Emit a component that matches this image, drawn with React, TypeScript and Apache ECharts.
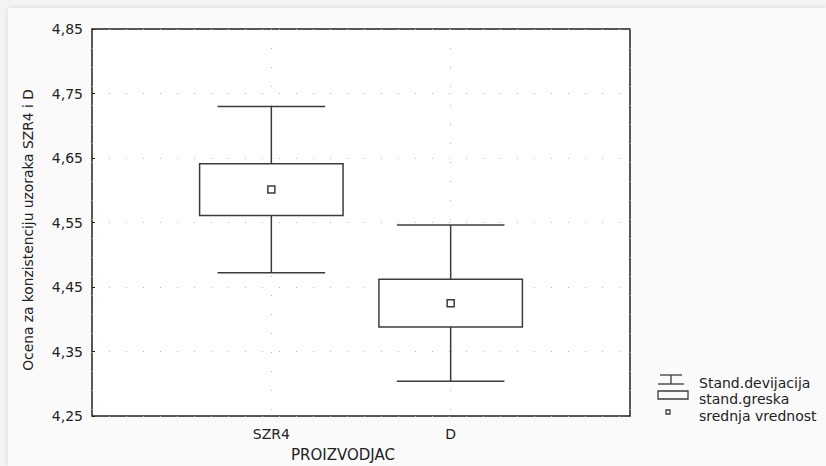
import React, { useEffect, useRef } from "react";
import * as echarts from "echarts";

// Producers on the x axis and their summary statistics
const categories = ["SZR4", "D"];
const means = [4.601, 4.425];
const stdErrors = [0.04, 0.037];
const stdDevs = [0.129, 0.121];

// y axis range and ticks
const yMin = 4.25;
const yMax = 4.85;
const yStep = 0.1;

const legendLabels = ["Stand.devijacija", "stand.greska", "srednja vrednost"];
const yTitle = "Ocena za konzistenciju uzoraka SZR4 i D";
const xTitle = "PROIZVODJAC";

const FONT = "DejaVu Sans";
const INK = "#3c3c3c";
const TEXT = "#222";

export default function App() {
  const ref = useRef<HTMLDivElement>(null);

  useEffect(() => {
    if (!ref.current) return;
    const chart = echarts.init(ref.current, undefined, { renderer: "svg" });

    const data = categories.map((_, i) => [i + 1, means[i], stdErrors[i], stdDevs[i]]);

    const renderItem = (_params: any, api: any) => {
      const x = api.value(0);
      const m = api.value(1);
      const se = api.value(2);
      const sd = api.value(3);
      const band = api.size([1, 0])[0];
      const cx = api.coord([x, m])[0];
      const cy = api.coord([x, m])[1];
      const boxTop = api.coord([x, m + se])[1];
      const boxBot = api.coord([x, m - se])[1];
      const whTop = api.coord([x, m + sd])[1];
      const whBot = api.coord([x, m - sd])[1];
      const bw = band * 0.8;
      const ww = band * 0.6;
      const line = { stroke: INK, lineWidth: 1.5 };
      return {
        type: "group",
        children: [
          { type: "line", shape: { x1: cx - ww / 2, y1: whTop, x2: cx + ww / 2, y2: whTop }, style: line },
          { type: "line", shape: { x1: cx - ww / 2, y1: whBot, x2: cx + ww / 2, y2: whBot }, style: line },
          { type: "line", shape: { x1: cx, y1: whTop, x2: cx, y2: boxTop }, style: line },
          { type: "line", shape: { x1: cx, y1: boxBot, x2: cx, y2: whBot }, style: line },
          {
            type: "rect",
            shape: { x: cx - bw / 2, y: boxTop, width: bw, height: boxBot - boxTop },
            style: { fill: "#fff", stroke: INK, lineWidth: 1.5 },
          },
          {
            type: "rect",
            shape: { x: cx - 3.5, y: cy - 3.5, width: 7, height: 7 },
            style: { fill: "#fff", stroke: INK, lineWidth: 1.5 },
          },
        ],
      };
    };

    const lx = 658;
    const ly = [383, 399, 416];
    const legendStroke = { stroke: INK, lineWidth: 1.3, fill: "none" };

    chart.setOption({
      animation: false,
      backgroundColor: "transparent",
      grid: {
        left: 92,
        top: 29,
        right: 196,
        bottom: 50,
        show: true,
        backgroundColor: "#fff",
        borderColor: "#222",
        borderWidth: 1.5,
      },
      xAxis: {
        type: "value",
        min: 0,
        max: categories.length + 1,
        interval: 1,
        axisLine: { show: false },
        axisTick: { show: false },
        splitLine: { show: true, lineStyle: { color: "#b8b8b8", type: [1, 18], width: 1 } },
        axisLabel: {
          margin: 11,
          fontFamily: FONT,
          fontSize: 14,
          color: TEXT,
          formatter: (v: number) => categories[v - 1] ?? "",
        },
      },
      yAxis: {
        type: "value",
        min: yMin,
        max: yMax,
        interval: yStep,
        axisLine: { show: false },
        axisTick: { show: true, inside: true, length: 3, lineStyle: { color: "#222" } },
        splitLine: { show: true, lineStyle: { color: "#b8b8b8", type: [1, 16], width: 1 } },
        axisLabel: {
          margin: 9,
          fontFamily: FONT,
          fontSize: 14,
          color: TEXT,
          formatter: (v: number) => v.toFixed(2).replace(".", ","),
        },
      },
      series: [
        {
          type: "custom",
          renderItem,
          data,
          encode: { x: 0, y: 1 },
          clip: false,
        },
      ],
      graphic: [
        {
          type: "text",
          x: 28,
          y: 230,
          rotation: Math.PI / 2,
          style: {
            text: yTitle,
            fontFamily: FONT,
            fontSize: 13.8,
            fill: TEXT,
            align: "center",
            verticalAlign: "middle",
          },
        },
        {
          type: "text",
          x: 343,
          y: 455,
          style: {
            text: xTitle,
            fontFamily: FONT,
            fontSize: 15,
            fill: TEXT,
            align: "center",
            verticalAlign: "middle",
          },
        },
        // legend: standard deviation glyph
        { type: "line", shape: { x1: lx + 2, y1: 375, x2: lx + 24, y2: 375 }, style: legendStroke },
        { type: "line", shape: { x1: lx + 13, y1: 375, x2: lx + 13, y2: 384 }, style: legendStroke },
        { type: "line", shape: { x1: lx, y1: 384, x2: lx + 26, y2: 384 }, style: legendStroke },
        // legend: standard error glyph
        { type: "rect", shape: { x: lx, y: 391, width: 30, height: 8 }, style: legendStroke },
        // legend: mean glyph
        { type: "rect", shape: { x: lx + 8, y: 410, width: 4, height: 4 }, style: legendStroke },
        ...legendLabels.map((t, i) => ({
          type: "text",
          x: 699,
          y: ly[i],
          style: {
            text: t,
            fontFamily: FONT,
            fontSize: 14,
            fill: TEXT,
            align: "left",
            verticalAlign: "middle",
          },
        })),
      ],
    });

    return () => chart.dispose();
  }, []);

  return (
    <div style={{ position: "fixed", left: 0, top: 0, width: 826, height: 466, background: "#f4f4f4" }}>
      <div
        style={{
          position: "absolute",
          left: 8,
          top: 8,
          right: 0,
          bottom: 0,
          background: "#fafafa",
          boxShadow: "0 0 6px rgba(0,0,0,0.12)",
        }}
      />
      <div ref={ref} style={{ position: "absolute", left: 0, top: 0, width: 826, height: 466 }} />
    </div>
  );
}
